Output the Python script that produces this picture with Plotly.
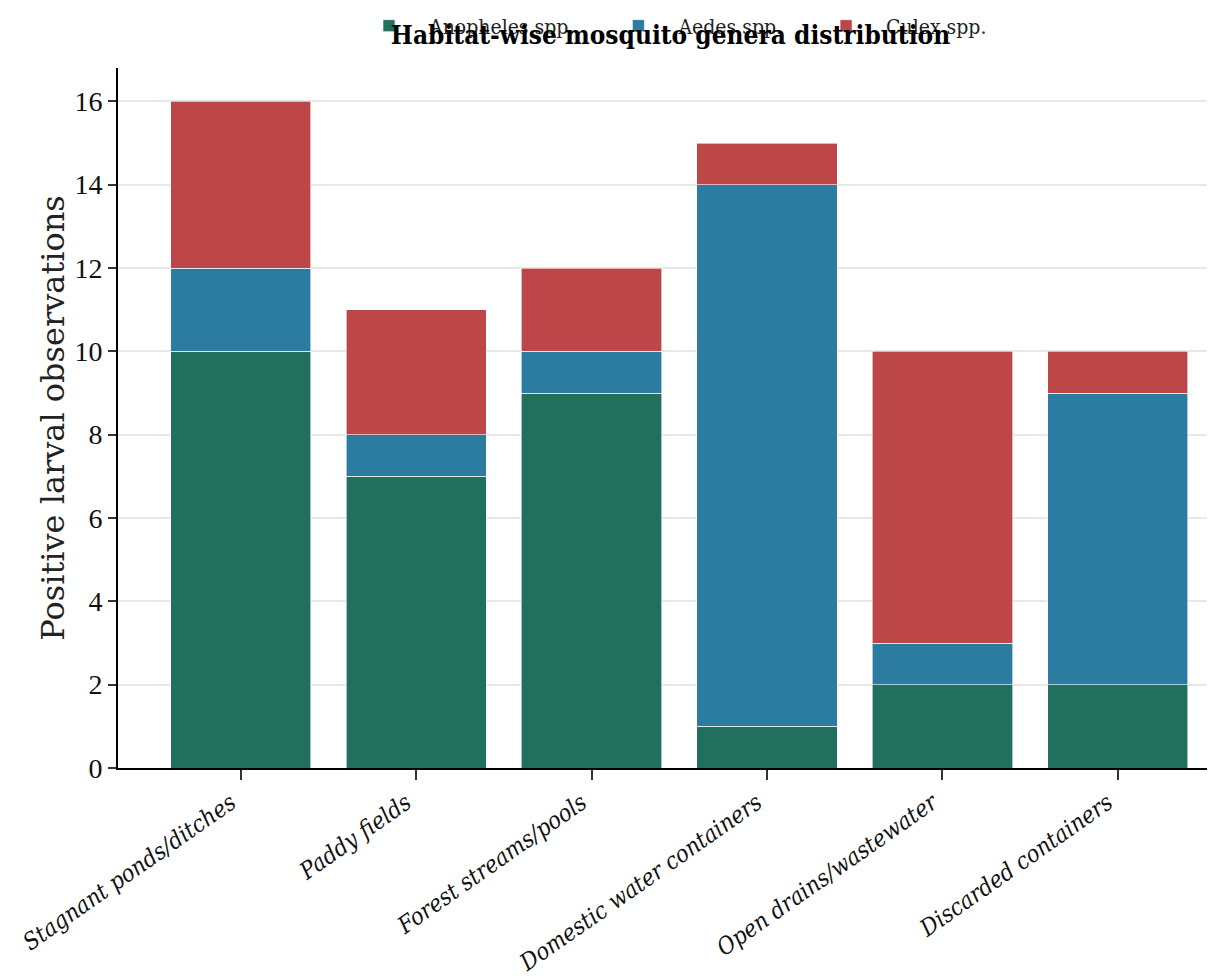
import plotly.graph_objects as go

habitats = ["Stagnant ponds/ditches", "Paddy fields", "Forest streams/pools",
            "Domestic water containers", "Open drains/wastewater", "Discarded containers"]
anopheles = [10, 7, 9, 1, 2, 2]
aedes = [2, 1, 1, 13, 1, 7]
culex = [4, 3, 2, 1, 7, 1]
series_names = ["Anopheles spp.", "Aedes spp.", "Culex spp."]
colors = ["#216F5D", "#2C7BA0", "#BC4648"]

pad = "\u00a0" * 3
fig = go.Figure()
for i, (name, vals, col) in enumerate(zip(series_names, [anopheles, aedes, culex], colors)):
    label = name + (pad if i < len(series_names) - 1 else "")
    fig.add_trace(go.Bar(x=list(range(len(habitats))), y=vals, name=label,
                         marker=dict(color=col, line=dict(color="white", width=0.6)),
                         width=0.8))

cond = "DejaVu Serif Condensed, DejaVu Serif, serif"
serif = "DejaVu Serif, serif"
fig.update_layout(
    width=1215, height=976,
    barmode="stack",
    plot_bgcolor="white", paper_bgcolor="white",
    margin=dict(l=110, r=0, t=60, b=216, autoexpand=False),
    title=dict(text="<b>Habitat-wise mosquito genera distribution</b>",
               font=dict(family=cond, size=26, color="black"),
               x=0.5, xref="paper", xanchor="center",
               y=1 - 27/976, yref="container", yanchor="middle"),
    legend=dict(orientation="h", x=0.5, xanchor="center", y=1.06, yanchor="middle",
                font=dict(family=cond, size=21, color="#222"),
                bgcolor="rgba(0,0,0,0)", itemwidth=70, traceorder="normal"),
    xaxis=dict(tickmode="array", tickvals=list(range(len(habitats))), ticktext=habitats,
               range=[-0.7, 5.6], tickangle=-35, automargin=False,
               ticklabelshift=-10,
               tickfont=dict(family=cond, size=23.5, color="#111", style="italic"),
               showline=True, linecolor="black", linewidth=2,
               ticks="outside", ticklen=10, tickwidth=1.5, tickcolor="#333",
               showgrid=False, zeroline=False),
    yaxis=dict(range=[0, 16.8], dtick=2, automargin=False,
               tickfont=dict(family="Liberation Serif, serif", size=28, color="#111"),
               title=dict(text="Positive larval observations",
                          font=dict(family=serif, size=32, color="#222"),
                          standoff=0),
               showline=True, linecolor="black", linewidth=2,
               ticks="outside", ticklen=8, tickwidth=1.5, tickcolor="#333",
               showgrid=True, gridcolor="#E8E8E8", gridwidth=2, zeroline=False),
)

fig.write_html("out.html")
